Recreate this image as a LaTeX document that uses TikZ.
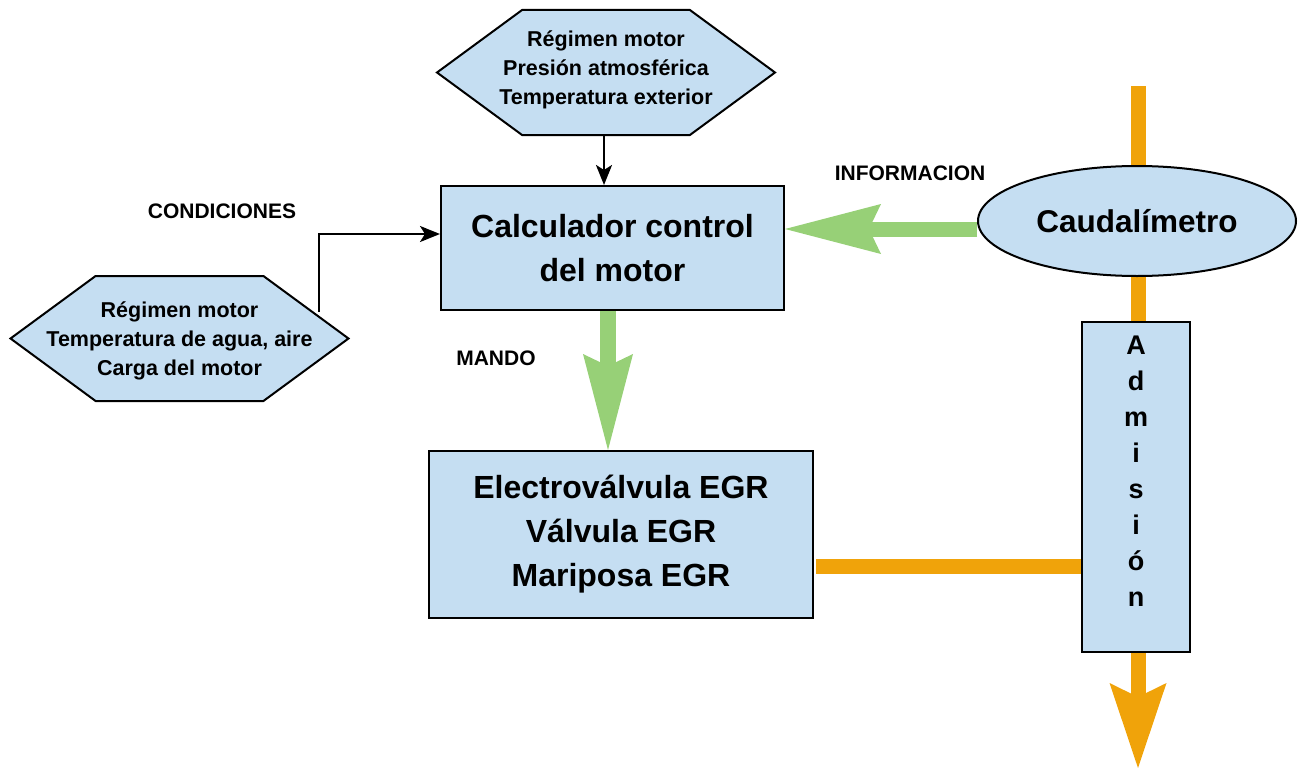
\documentclass[tikz,border=0pt]{standalone}
\usepackage{fontspec}
\setmainfont{Liberation Sans}
\usepackage{tikz}
\usetikzlibrary{arrows.meta,positioning,backgrounds,shapes.geometric,shapes.symbols}
\usepackage{xcolor}
\definecolor{boxblue}{RGB}{197,222,242}
\definecolor{flowgreen}{RGB}{151,208,119}
\definecolor{pipeorange}{RGB}{240,163,10}

\begin{document}
\begin{tikzpicture}[
      x=1pt, y=-1pt,
      block/.style={rectangle, draw, fill=boxblue, line width=2pt, align=center, inner sep=0pt},
      hexa/.style={signal, signal to=west and east, signal pointer angle=72.6, draw, fill=boxblue,
        line width=2pt, align=center, minimum width=338pt, minimum height=125pt, inner ysep=0pt,
        inner xsep=-150pt, font=\fontsize{21.5}{29}\selectfont\bfseries},
      tag/.style={font=\fontsize{21}{24}\selectfont\bfseries},
      signalarrow/.style={line width=2.5pt, -{Stealth[length=20pt, width=16pt, inset=5pt]}},
      greenflow/.style={flowgreen, -{Stealth[length=96pt, width=50pt, inset=12pt, line width=0pt]}},
      pipe/.style={pipeorange, line width=15pt}
    ]
    \useasboundingbox (0,0) rectangle (1301,768);
    % Input conditions
    \node[hexa, text depth=10.5pt] (motorin) at (606,72.5) {Régimen motor\\Presión atmosférica\\Temperatura exterior};
    \node[hexa, text depth=0pt] (condin) at (179.5,338.5) {Régimen motor\\Temperatura de agua, aire\\Carga del motor};
    % Control unit, sensor and actuators
    \node[block, minimum width=343pt, minimum height=124pt,
      font=\fontsize{32}{44}\selectfont\bfseries] (calc) at (612.5,248) {Calculador control\\del motor};
    \node[block, minimum width=384pt, minimum height=167pt,
      font=\fontsize{32}{44}\selectfont\bfseries] (electro) at (621,534.5) {Electroválvula EGR\\Válvula EGR\\Mariposa EGR};
    \node[ellipse, draw, fill=boxblue, line width=2pt, minimum width=318pt, minimum height=110pt, inner sep=0pt,
      font=\fontsize{31.5}{36}\selectfont\bfseries] (caud) at (1137,221) {Caudalímetro};
    \node[block, minimum width=108pt, minimum height=330pt, text depth=32pt,
      font=\fontsize{27}{36}\selectfont\bfseries] (admision) at (1136,487) {A\\d\\m\\i\\s\\i\\ó\\n};
    % Labels
    \node[tag] (condlbl) at (222,211) {CONDICIONES};
    \node[tag] (mandolbl) at (496,358) {MANDO};
    \node[tag] (infolbl) at (910,173) {INFORMACION};
    % Intake pipe
    \coordinate (pipetop) at (1138,86);
    \coordinate (pipeend) at (1138,768);
    \coordinate (egrout) at (816,566);
    \coordinate (condout) at (319,312);
    \begin{scope}[on background layer]
      \draw[pipe, -{Stealth[length=85pt, width=57pt, inset=14pt, line width=0pt]}] (pipetop) -- (pipeend);
      \draw[pipe] (egrout) -- (egrout -| admision.west);
    \end{scope}
    % Signals
    \draw[signalarrow] ([xshift=-2pt]motorin.south) -- ([xshift=-2pt]motorin.south |- calc.north);
    \draw[signalarrow] (condout) |- ([yshift=14pt]calc.west);
    \draw[greenflow, line width=16pt] ([xshift=-4.5pt]calc.south) -- ([xshift=-4.5pt]calc.south |- electro.north);
    \draw[greenflow, line width=15pt] ([yshift=-8pt]caud.west) -- ([yshift=-8pt]caud.west -| calc.east);
  \end{tikzpicture}
\end{document}
